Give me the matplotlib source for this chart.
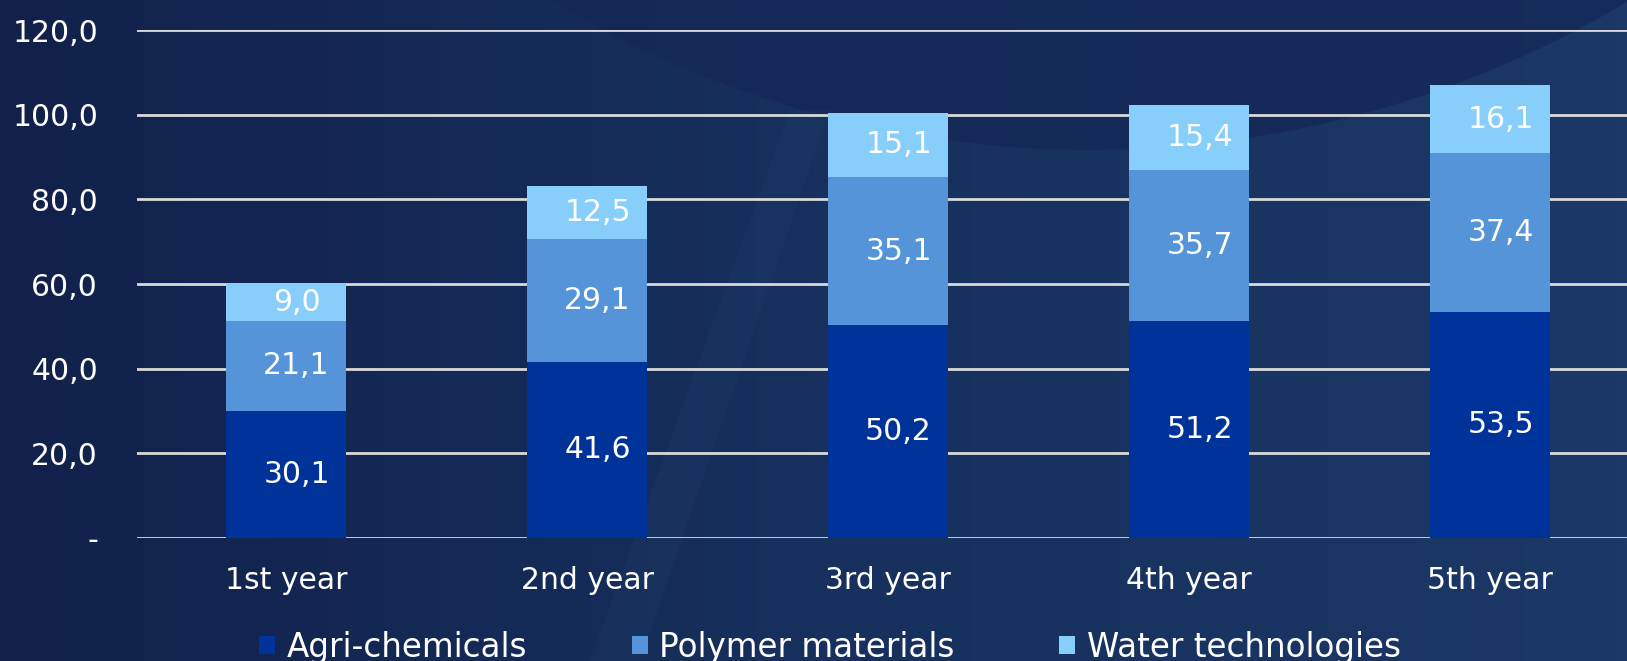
import numpy as np
import matplotlib
matplotlib.use("Agg")
import matplotlib.pyplot as plt
from matplotlib.patches import Circle, Polygon
from matplotlib.colors import LinearSegmentedColormap

categories = ["1st year", "2nd year", "3rd year", "4th year", "5th year"]
series_names = ["Agri-chemicals", "Polymer materials", "Water technologies"]
agri = [30.1, 41.6, 50.2, 51.2, 53.5]
polymer = [21.1, 29.1, 35.1, 35.7, 37.4]
water = [9.0, 12.5, 15.1, 15.4, 16.1]
yticks = [0, 20, 40, 60, 80, 100, 120]
colors = ["#003399", "#5594D9", "#87CEFA"]

W, H = 1627, 661
plt.rcParams['font.family'] = ['DejaVu Sans']
FS = 21.5
fig = plt.figure(figsize=(W / 100, H / 100), dpi=100)

# background
bg = fig.add_axes([0, 0, 1, 1], zorder=-10)
bg.set_xlim(0, W)
bg.set_ylim(0, H)
bg.axis("off")
gx = np.linspace(0, 1, 512)
grad = np.vstack([gx] * 2)
cm = LinearSegmentedColormap.from_list("bg", ["#11214b", "#17305d", "#1c3866"])
bg.imshow(grad, extent=[0, W, 0, H], aspect="auto", cmap=cm, zorder=0, interpolation="bilinear")
bg.add_patch(Circle((1090, H + 897), 1047, color="#142856", alpha=0.8, zorder=1, lw=0))
bg.add_patch(Polygon([[790, H - 110], [830, H - 110], [640, 0], [590, 0]],
                     closed=True, color="#2a4a78", alpha=0.15, zorder=2, lw=0))

ax = fig.add_axes([137 / W, 123 / H, 1 - 137 / W, (538 - 30) / H])
ax.patch.set_alpha(0)
x = np.arange(len(categories))
width = 0.4
bottoms = np.zeros(len(categories))
for vals, c, name in zip([agri, polymer, water], colors, series_names):
    ax.bar(x, vals, width, bottom=bottoms, color=c, label=name, zorder=3)
    for xi, b, v in zip(x, bottoms, vals):
        ax.text(xi + 0.035, b + v / 2, f"{v:.1f}".replace(".", ","), ha="center", va="center",
                color="white", fontsize=FS, zorder=4)
    bottoms = bottoms + np.array(vals)

ax.set_xlim(-0.495, 4.455)
ax.set_ylim(0, 120)
ax.set_yticks(yticks)
ax.set_yticklabels(["-" if t == 0 else f"{t:.1f}".replace(".", ",") for t in yticks])
ax.yaxis.grid(True, color="#d9d9d9", lw=2, zorder=1)
ax.set_axisbelow(True)
for s in ax.spines.values():
    s.set_visible(False)
ax.tick_params(axis="both", length=0, colors="white", labelsize=FS)
ax.tick_params(axis="y", pad=28)
ax.tick_params(axis="x", pad=20)
ax.set_xticks(x)
ax.set_xticklabels(categories)

leg = ax.legend(loc="center", bbox_to_anchor=(0.465, -0.215), ncol=3, frameon=False,
                fontsize=23.5, labelcolor="white", handlelength=0.5, handleheight=0.5,
                handletextpad=0.35, columnspacing=3.2)

fig.savefig("out.png", dpi=100, facecolor="#12224c")
